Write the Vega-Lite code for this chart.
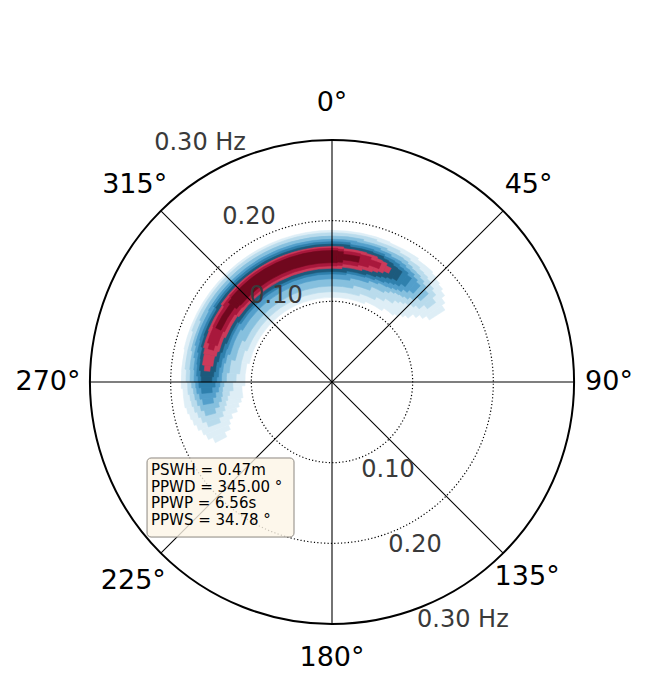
{
  "$schema": "https://vega.github.io/schema/vega-lite/v6.json",
  "width": 484,
  "height": 484,
  "autosize": {"type": "none"},
  "padding": {"left": 90, "top": 140, "right": 81, "bottom": 70},
  "background": "white",
  "config": {"view": {"stroke": null}, "font": "DejaVu Sans"},
  "datasets": {
    "spectrum": [
      {"d1":242.5,"d2":245,"lev":1,"f1":0.147,"f2":0.163},
      {"d1":245,"d2":247.5,"lev":1,"f1":0.139,"f2":0.169},
      {"d1":247.5,"d2":250,"lev":1,"f1":0.136,"f2":0.172},
      {"d1":250,"d2":252.5,"lev":1,"f1":0.131,"f2":0.176},
      {"d1":252.5,"d2":255,"lev":1,"f1":0.123,"f2":0.179},
      {"d1":255,"d2":257.5,"lev":1,"f1":0.119,"f2":0.181},
      {"d1":257.5,"d2":260,"lev":1,"f1":0.115,"f2":0.183},
      {"d1":260,"d2":267.5,"lev":1,"f1":0.112,"f2":0.185},
      {"d1":267.5,"d2":282.5,"lev":1,"f1":0.108,"f2":0.187},
      {"d1":282.5,"d2":360,"lev":1,"f1":0.105,"f2":0.188},
      {"d1":0,"d2":22.5,"lev":1,"f1":0.105,"f2":0.188},
      {"d1":22.5,"d2":35,"lev":1,"f1":0.108,"f2":0.187},
      {"d1":35,"d2":42.5,"lev":1,"f1":0.112,"f2":0.185},
      {"d1":42.5,"d2":45,"lev":1,"f1":0.115,"f2":0.183},
      {"d1":45,"d2":47.5,"lev":1,"f1":0.119,"f2":0.181},
      {"d1":47.5,"d2":50,"lev":1,"f1":0.123,"f2":0.179},
      {"d1":50,"d2":52.5,"lev":1,"f1":0.131,"f2":0.176},
      {"d1":52.5,"d2":55,"lev":1,"f1":0.137,"f2":0.171},
      {"d1":55,"d2":57.5,"lev":1,"f1":0.143,"f2":0.166},

      {"d1":250,"d2":252.5,"lev":2,"f1":0.147,"f2":0.163},
      {"d1":252.5,"d2":255,"lev":2,"f1":0.141,"f2":0.168},
      {"d1":255,"d2":257.5,"lev":2,"f1":0.137,"f2":0.171},
      {"d1":257.5,"d2":260,"lev":2,"f1":0.134,"f2":0.174},
      {"d1":260,"d2":262.5,"lev":2,"f1":0.131,"f2":0.176},
      {"d1":262.5,"d2":265,"lev":2,"f1":0.128,"f2":0.177},
      {"d1":265,"d2":270,"lev":2,"f1":0.123,"f2":0.179},
      {"d1":270,"d2":275,"lev":2,"f1":0.119,"f2":0.181},
      {"d1":275,"d2":290,"lev":2,"f1":0.115,"f2":0.183},
      {"d1":290,"d2":360,"lev":2,"f1":0.112,"f2":0.185},
      {"d1":0,"d2":17.5,"lev":2,"f1":0.112,"f2":0.185},
      {"d1":17.5,"d2":27.5,"lev":2,"f1":0.115,"f2":0.183},
      {"d1":27.5,"d2":32.5,"lev":2,"f1":0.119,"f2":0.181},
      {"d1":32.5,"d2":37.5,"lev":2,"f1":0.123,"f2":0.179},
      {"d1":37.5,"d2":40,"lev":2,"f1":0.128,"f2":0.177},
      {"d1":40,"d2":42.5,"lev":2,"f1":0.131,"f2":0.176},
      {"d1":42.5,"d2":45,"lev":2,"f1":0.134,"f2":0.174},
      {"d1":45,"d2":47.5,"lev":2,"f1":0.137,"f2":0.171},
      {"d1":47.5,"d2":50,"lev":2,"f1":0.141,"f2":0.168},
      {"d1":50,"d2":52.5,"lev":2,"f1":0.149,"f2":0.162},

      {"d1":255,"d2":257.5,"lev":3,"f1":0.149,"f2":0.162},
      {"d1":257.5,"d2":260,"lev":3,"f1":0.143,"f2":0.166},
      {"d1":260,"d2":262.5,"lev":3,"f1":0.139,"f2":0.169},
      {"d1":262.5,"d2":265,"lev":3,"f1":0.137,"f2":0.171},
      {"d1":265,"d2":267.5,"lev":3,"f1":0.136,"f2":0.172},
      {"d1":267.5,"d2":270,"lev":3,"f1":0.134,"f2":0.174},
      {"d1":270,"d2":275,"lev":3,"f1":0.131,"f2":0.176},
      {"d1":275,"d2":282.5,"lev":3,"f1":0.128,"f2":0.177},
      {"d1":282.5,"d2":295,"lev":3,"f1":0.123,"f2":0.179},
      {"d1":295,"d2":360,"lev":3,"f1":0.119,"f2":0.181},
      {"d1":0,"d2":12.5,"lev":3,"f1":0.119,"f2":0.181},
      {"d1":12.5,"d2":22.5,"lev":3,"f1":0.123,"f2":0.179},
      {"d1":22.5,"d2":30,"lev":3,"f1":0.128,"f2":0.177},
      {"d1":30,"d2":32.5,"lev":3,"f1":0.131,"f2":0.176},
      {"d1":32.5,"d2":35,"lev":3,"f1":0.134,"f2":0.174},
      {"d1":35,"d2":37.5,"lev":3,"f1":0.136,"f2":0.172},
      {"d1":37.5,"d2":40,"lev":3,"f1":0.137,"f2":0.171},
      {"d1":40,"d2":42.5,"lev":3,"f1":0.139,"f2":0.169},
      {"d1":42.5,"d2":45,"lev":3,"f1":0.143,"f2":0.166},
      {"d1":45,"d2":47.5,"lev":3,"f1":0.149,"f2":0.162},

      {"d1":260,"d2":262.5,"lev":4,"f1":0.149,"f2":0.162},
      {"d1":262.5,"d2":265,"lev":4,"f1":0.145,"f2":0.165},
      {"d1":265,"d2":267.5,"lev":4,"f1":0.141,"f2":0.168},
      {"d1":267.5,"d2":270,"lev":4,"f1":0.139,"f2":0.169},
      {"d1":270,"d2":275,"lev":4,"f1":0.137,"f2":0.171},
      {"d1":275,"d2":280,"lev":4,"f1":0.136,"f2":0.172},
      {"d1":280,"d2":285,"lev":4,"f1":0.134,"f2":0.174},
      {"d1":285,"d2":300,"lev":4,"f1":0.131,"f2":0.176},
      {"d1":300,"d2":360,"lev":4,"f1":0.128,"f2":0.177},
      {"d1":0,"d2":10,"lev":4,"f1":0.128,"f2":0.177},
      {"d1":10,"d2":20,"lev":4,"f1":0.131,"f2":0.176},
      {"d1":20,"d2":25,"lev":4,"f1":0.134,"f2":0.174},
      {"d1":25,"d2":30,"lev":4,"f1":0.136,"f2":0.172},
      {"d1":30,"d2":32.5,"lev":4,"f1":0.137,"f2":0.171},
      {"d1":32.5,"d2":35,"lev":4,"f1":0.139,"f2":0.169},
      {"d1":35,"d2":37.5,"lev":4,"f1":0.141,"f2":0.168},
      {"d1":37.5,"d2":40,"lev":4,"f1":0.145,"f2":0.165},
      {"d1":40,"d2":42.5,"lev":4,"f1":0.149,"f2":0.162},

      {"d1":265,"d2":267.5,"lev":5,"f1":0.149,"f2":0.162},
      {"d1":267.5,"d2":270,"lev":5,"f1":0.145,"f2":0.165},
      {"d1":270,"d2":272.5,"lev":5,"f1":0.143,"f2":0.166},
      {"d1":272.5,"d2":277.5,"lev":5,"f1":0.141,"f2":0.168},
      {"d1":277.5,"d2":282.5,"lev":5,"f1":0.139,"f2":0.169},
      {"d1":282.5,"d2":287.5,"lev":5,"f1":0.137,"f2":0.171},
      {"d1":287.5,"d2":302.5,"lev":5,"f1":0.136,"f2":0.172},
      {"d1":302.5,"d2":360,"lev":5,"f1":0.134,"f2":0.174},
      {"d1":0,"d2":7.5,"lev":5,"f1":0.134,"f2":0.174},
      {"d1":7.5,"d2":17.5,"lev":5,"f1":0.136,"f2":0.172},
      {"d1":17.5,"d2":22.5,"lev":5,"f1":0.137,"f2":0.171},
      {"d1":22.5,"d2":27.5,"lev":5,"f1":0.139,"f2":0.169},
      {"d1":27.5,"d2":30,"lev":5,"f1":0.141,"f2":0.168},
      {"d1":30,"d2":32.5,"lev":5,"f1":0.143,"f2":0.166},
      {"d1":32.5,"d2":35,"lev":5,"f1":0.145,"f2":0.165},
      {"d1":35,"d2":37.5,"lev":5,"f1":0.149,"f2":0.162},

      {"d1":270,"d2":272.5,"lev":6,"f1":0.149,"f2":0.162},
      {"d1":272.5,"d2":275,"lev":6,"f1":0.147,"f2":0.163},
      {"d1":275,"d2":280,"lev":6,"f1":0.145,"f2":0.165},
      {"d1":280,"d2":285,"lev":6,"f1":0.143,"f2":0.166},
      {"d1":285,"d2":290,"lev":6,"f1":0.141,"f2":0.168},
      {"d1":290,"d2":302.5,"lev":6,"f1":0.139,"f2":0.169},
      {"d1":302.5,"d2":360,"lev":6,"f1":0.137,"f2":0.171},
      {"d1":0,"d2":7.5,"lev":6,"f1":0.137,"f2":0.171},
      {"d1":7.5,"d2":17.5,"lev":6,"f1":0.139,"f2":0.169},
      {"d1":17.5,"d2":22.5,"lev":6,"f1":0.141,"f2":0.168},
      {"d1":22.5,"d2":25,"lev":6,"f1":0.143,"f2":0.166},
      {"d1":25,"d2":27.5,"lev":6,"f1":0.145,"f2":0.165},
      {"d1":27.5,"d2":30,"lev":6,"f1":0.147,"f2":0.163},
      {"d1":30,"d2":32.5,"lev":6,"f1":0.149,"f2":0.162},

      {"d1":275,"d2":277.5,"lev":7,"f1":0.152,"f2":0.159},
      {"d1":277.5,"d2":282.5,"lev":7,"f1":0.149,"f2":0.162},
      {"d1":282.5,"d2":285,"lev":7,"f1":0.147,"f2":0.163},
      {"d1":285,"d2":292.5,"lev":7,"f1":0.145,"f2":0.165},
      {"d1":292.5,"d2":305,"lev":7,"f1":0.143,"f2":0.166},
      {"d1":305,"d2":360,"lev":7,"f1":0.141,"f2":0.168},
      {"d1":0,"d2":5,"lev":7,"f1":0.141,"f2":0.168},
      {"d1":5,"d2":15,"lev":7,"f1":0.143,"f2":0.166},
      {"d1":15,"d2":20,"lev":7,"f1":0.145,"f2":0.165},
      {"d1":20,"d2":22.5,"lev":7,"f1":0.147,"f2":0.163},
      {"d1":22.5,"d2":25,"lev":7,"f1":0.149,"f2":0.162},
      {"d1":25,"d2":27.5,"lev":7,"f1":0.152,"f2":0.159},

      {"d1":285,"d2":287.5,"lev":8,"f1":0.152,"f2":0.159},
      {"d1":287.5,"d2":295,"lev":8,"f1":0.149,"f2":0.162},
      {"d1":295,"d2":305,"lev":8,"f1":0.147,"f2":0.163},
      {"d1":305,"d2":310,"lev":8,"f1":0.145,"f2":0.165},
      {"d1":310,"d2":360,"lev":8,"f1":0.144,"f2":0.166},
      {"d1":0,"d2":2.5,"lev":8,"f1":0.144,"f2":0.166},
      {"d1":2.5,"d2":5,"lev":8,"f1":0.145,"f2":0.165},
      {"d1":5,"d2":12.5,"lev":8,"f1":0.147,"f2":0.163},
      {"d1":12.5,"d2":17.5,"lev":8,"f1":0.149,"f2":0.162},
      {"d1":17.5,"d2":22.5,"lev":8,"f1":0.152,"f2":0.159},

      {"d1":295,"d2":307.5,"lev":9,"f1":0.152,"f2":0.159},
      {"d1":307.5,"d2":310,"lev":9,"f1":0.149,"f2":0.162},
      {"d1":310,"d2":360,"lev":9,"f1":0.148,"f2":0.163},
      {"d1":0,"d2":2.5,"lev":9,"f1":0.148,"f2":0.163},
      {"d1":2.5,"d2":5,"lev":9,"f1":0.149,"f2":0.162},
      {"d1":5,"d2":12.5,"lev":9,"f1":0.152,"f2":0.159}
    ],
    "rings": [{"r": 0.1}, {"r": 0.2}],
    "outer": [{"r": 0.3}],
    "spokes": [
      {"x1": 0, "y1": 0.3, "x2": 0, "y2": -0.3},
      {"x1": 0.212132, "y1": 0.212132, "x2": -0.212132, "y2": -0.212132},
      {"x1": 0.3, "y1": 0, "x2": -0.3, "y2": 0},
      {"x1": 0.212132, "y1": -0.212132, "x2": -0.212132, "y2": 0.212132}
    ],
    "dirlabels": [
      {"label": "0°", "ang": 0, "r": 0.3459},
      {"label": "45°", "ang": 45, "r": 0.3446},
      {"label": "90°", "ang": 90, "r": 0.3434},
      {"label": "135°", "ang": 135, "r": 0.3421},
      {"label": "180°", "ang": 180, "r": 0.3421},
      {"label": "225°", "ang": 225, "r": 0.3483},
      {"label": "270°", "ang": 270, "r": 0.3521},
      {"label": "315°", "ang": 315, "r": 0.3459}
    ],
    "freqlabels": [
      {"label": "0.30 Hz", "ang": 331.1, "r": 0.3384},
      {"label": "0.20", "ang": 333.3, "r": 0.229},
      {"label": "0.10", "ang": 326.9, "r": 0.1272},
      {"label": "0.10", "ang": 147.5, "r": 0.1293},
      {"label": "0.20", "ang": 153.0, "r": 0.2267},
      {"label": "0.30 Hz", "ang": 151.2, "r": 0.3368}
    ],
    "box": [{"x1": -0.2293, "x2": -0.0471, "y1": -0.0942, "y2": -0.1922}],
    "info": [
      {"label": "PSWH = 0.47m", "x": -0.2244, "y": -0.1091},
      {"label": "PPWD = 345.00 °", "x": -0.2244, "y": -0.1296},
      {"label": "PPWP = 6.56s", "x": -0.2244, "y": -0.1500},
      {"label": "PPWS = 34.78 °", "x": -0.2244, "y": -0.1705}
    ]
  },
  "layer": [
    {
      "data": {"name": "spectrum"},
      "mark": {"type": "arc", "strokeWidth": 0.6},
      "encoding": {
        "theta": {"field": "d1", "type": "quantitative", "stack": null, "scale": {"type": "linear", "domain": [0, 360], "range": [0, 6.283185307179586], "nice": false, "zero": false}},
        "theta2": {"field": "d2"},
        "radius": {"field": "f2", "type": "quantitative", "stack": null, "scale": {"type": "linear", "domain": [0, 0.3], "range": [0, 242], "nice": false, "zero": true}},
        "radius2": {"field": "f1"},
        "color": {"field": "lev", "type": "ordinal", "legend": null, "scale": {"domain": [1,2,3,4,5,6,7,8,9], "range": ["#deeef6","#b9dbec","#86c0de","#539fcb","#2f80ad","#1d5a7c","#cc3a5a","#a8183c","#70081e"]}},
        "stroke": {"field": "lev", "type": "ordinal", "legend": null, "scale": {"domain": [1,2,3,4,5,6,7,8,9], "range": ["#deeef6","#b9dbec","#86c0de","#539fcb","#2f80ad","#1d5a7c","#cc3a5a","#a8183c","#70081e"]}},
        "order": {"field": "lev", "type": "quantitative"}
      }
    },
    {
      "data": {"name": "rings"},
      "mark": {"type": "arc", "theta": 0, "theta2": 6.2832, "filled": false, "fill": null, "stroke": "black", "strokeWidth": 1.2, "strokeDash": [1.2, 2.2]},
      "encoding": {
        "radius": {"field": "r", "type": "quantitative", "stack": null, "scale": {"type": "linear", "domain": [0, 0.3], "range": [0, 242], "nice": false, "zero": true}}
      }
    },
    {
      "data": {"name": "spokes"},
      "mark": {"type": "rule", "color": "black", "strokeWidth": 1.1},
      "encoding": {
        "x": {"field": "x1", "type": "quantitative", "axis": null, "scale": {"domain": [-0.3, 0.3], "nice": false, "zero": false}},
        "y": {"field": "y1", "type": "quantitative", "axis": null, "scale": {"domain": [-0.3, 0.3], "nice": false, "zero": false}},
        "x2": {"field": "x2"},
        "y2": {"field": "y2"}
      }
    },
    {
      "data": {"name": "outer"},
      "mark": {"type": "arc", "theta": 0, "theta2": 6.2832, "filled": false, "fill": null, "stroke": "black", "strokeWidth": 2},
      "encoding": {
        "radius": {"field": "r", "type": "quantitative", "stack": null, "scale": {"type": "linear", "domain": [0, 0.3], "range": [0, 242], "nice": false, "zero": true}}
      }
    },
    {
      "data": {"name": "dirlabels"},
      "mark": {"type": "text", "fontSize": 27, "font": "DejaVu Sans", "color": "black", "align": "center", "baseline": "middle"},
      "encoding": {
        "theta": {"field": "ang", "type": "quantitative", "stack": null, "scale": {"type": "linear", "domain": [0, 360], "range": [0, 6.283185307179586], "nice": false, "zero": false}},
        "radius": {"field": "r", "type": "quantitative", "stack": null, "scale": {"type": "linear", "domain": [0, 0.3], "range": [0, 242], "nice": false, "zero": true}},
        "text": {"field": "label"}
      }
    },
    {
      "data": {"name": "freqlabels"},
      "mark": {"type": "text", "fontSize": 24, "font": "DejaVu Sans", "color": "#3a3a3a", "align": "center", "baseline": "middle"},
      "encoding": {
        "theta": {"field": "ang", "type": "quantitative", "stack": null, "scale": {"type": "linear", "domain": [0, 360], "range": [0, 6.283185307179586], "nice": false, "zero": false}},
        "radius": {"field": "r", "type": "quantitative", "stack": null, "scale": {"type": "linear", "domain": [0, 0.3], "range": [0, 242], "nice": false, "zero": true}},
        "text": {"field": "label"}
      }
    },
    {
      "data": {"name": "box"},
      "mark": {"type": "rect", "cornerRadius": 4, "fill": "#fdf5e6", "fillOpacity": 0.8, "stroke": "#8c8780", "strokeWidth": 1},
      "encoding": {
        "x": {"field": "x1", "type": "quantitative", "axis": null, "scale": {"domain": [-0.3, 0.3], "nice": false, "zero": false}},
        "x2": {"field": "x2"},
        "y": {"field": "y1", "type": "quantitative", "axis": null, "scale": {"domain": [-0.3, 0.3], "nice": false, "zero": false}},
        "y2": {"field": "y2"}
      }
    },
    {
      "data": {"name": "info"},
      "mark": {"type": "text", "fontSize": 15, "font": "DejaVu Sans", "color": "black", "align": "left", "baseline": "middle"},
      "encoding": {
        "x": {"field": "x", "type": "quantitative", "axis": null, "scale": {"domain": [-0.3, 0.3], "nice": false, "zero": false}},
        "y": {"field": "y", "type": "quantitative", "axis": null, "scale": {"domain": [-0.3, 0.3], "nice": false, "zero": false}},
        "text": {"field": "label"}
      }
    }
  ]
}
